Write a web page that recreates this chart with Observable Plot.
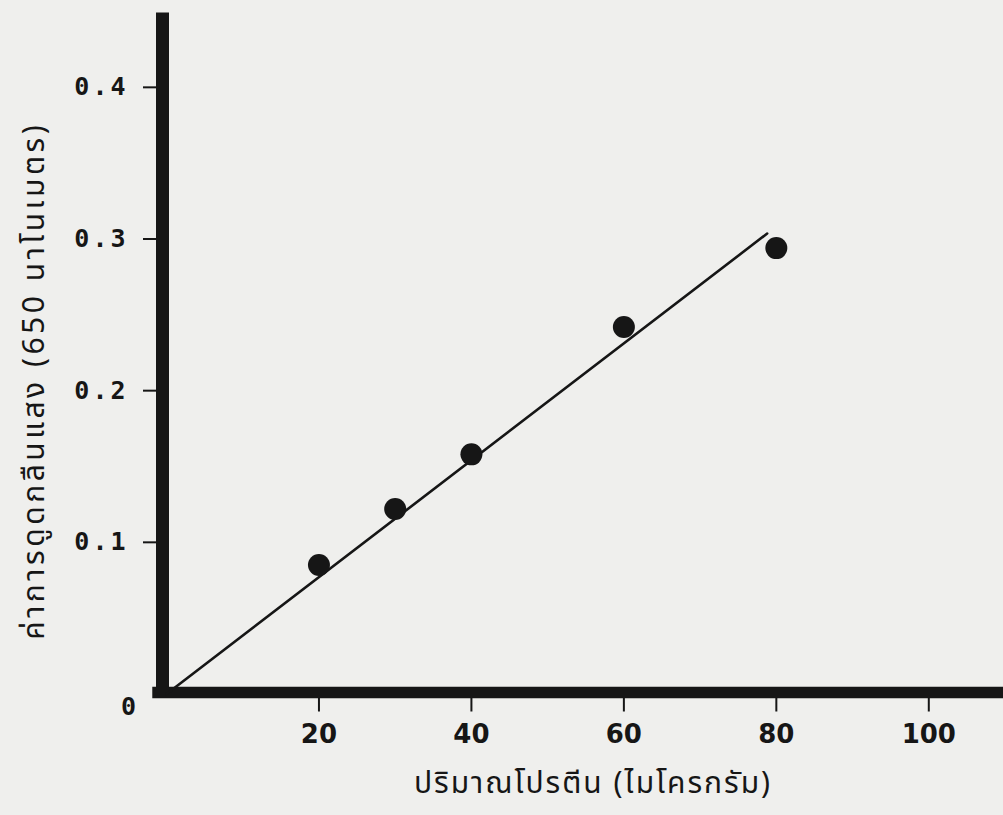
<!DOCTYPE html>
<html>
<head>
<meta charset="utf-8">
<script src="https://cdn.jsdelivr.net/npm/d3@7"></script>
<script src="https://cdn.jsdelivr.net/npm/@observablehq/plot@0.6"></script>
<style>
  html, body { margin: 0; padding: 0; background: #efefed; }
  #chart svg { display: block; }
  #chart g[aria-label="y-axis tick label"] text { letter-spacing: 3px; }
</style>
</head>
<body>
<div id="chart"></div>
<script>
// Data
const proteinUg = [20, 30, 40, 60, 80];
const absorbance = [0.085, 0.122, 0.158, 0.242, 0.294];
const fitX = [0, 78.8];
const fitY = [0, 0.3036];
const xTicks = [20, 40, 60, 80, 100];
const yTicks = [0.1, 0.2, 0.3, 0.4];
const xLabel = "ปริมาณโปรตีน (ไมโครกรัม)";
const yLabel = "ค่าการดูดกลืนแสง (650 นาโนเมตร)";
const originLabel = "0";

const points = proteinUg.map((x, i) => ({x, y: absorbance[i]}));
const fit = fitX.map((x, i) => ({x, y: fitY[i]}));

const ink = "#161616";
const thaiFont = "'Noto Sans Thai', 'Noto Sans', 'DejaVu Sans', sans-serif";

const chart = Plot.plot({
  width: 1003,
  height: 815,
  marginLeft: 166,
  marginRight: 0,
  marginTop: 11,
  marginBottom: 121.5,
  style: {background: "#efefed", color: ink, overflow: "visible"},
  x: {domain: [0, 109.8]},
  y: {domain: [0, 0.45]},
  marks: [
    Plot.axisY({
      ticks: yTicks, tickSize: 23, tickPadding: 15, strokeWidth: 2,
      tickFormat: d => d.toFixed(1), label: null,
      fontFamily: "'DejaVu Sans Mono', monospace", fontSize: 25, fontWeight: "bold"
    }),
    Plot.axisX({
      ticks: xTicks, tickSize: 18, tickPadding: 13, strokeWidth: 2,
      tickFormat: d => String(d), label: null,
      fontFamily: "'DejaVu Sans', sans-serif", fontSize: 26, fontWeight: "bold"
    }),
    Plot.ruleY([0], {x1: -1.8, x2: 109.8, stroke: ink, strokeWidth: 11.5, dy: -1.5}),
    Plot.ruleX([0], {y1: -0.003, y2: 0.449, stroke: ink, strokeWidth: 13, dx: -4}),
    Plot.line(fit, {x: "x", y: "y", stroke: ink, strokeWidth: 2.6}),
    Plot.dot(points, {x: "x", y: "y", r: 11, fill: ink, stroke: "none"}),
    Plot.text([originLabel], {
      frameAnchor: "bottom-left", dx: -38, dy: 13, textAnchor: "middle", lineAnchor: "middle",
      fontFamily: "'DejaVu Sans Mono', monospace", fontSize: 25, fontWeight: "bold", fill: ink
    }),
    Plot.text([xLabel], {
      frameAnchor: "bottom", dx: 8, dy: 89, textAnchor: "middle", lineAnchor: "middle",
      fontFamily: thaiFont, fontSize: 30, fill: ink, letterSpacing: "2px"
    }),
    Plot.text([yLabel], {
      frameAnchor: "left", rotate: -90, dx: -132, dy: 28, textAnchor: "middle", lineAnchor: "middle",
      fontFamily: thaiFont, fontSize: 30, fill: ink
    })
  ]
});
chart.querySelectorAll("text").forEach(t => {
  if (t.textContent === xLabel) t.style.letterSpacing = "2px";
  if (t.textContent === yLabel) t.style.letterSpacing = "3.5px";
});
document.getElementById("chart").appendChild(chart);
</script>
</body>
</html>
